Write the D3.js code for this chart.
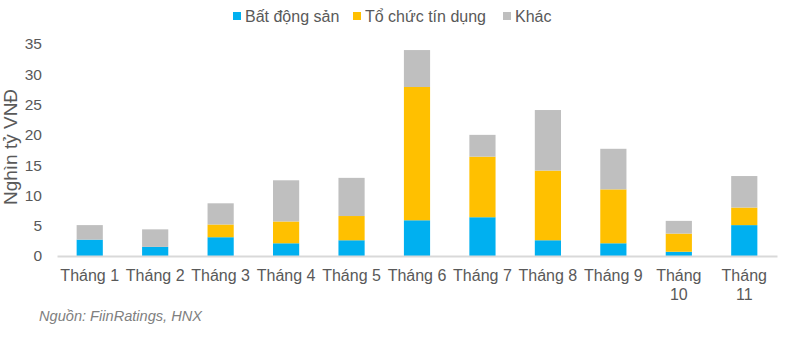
<!DOCTYPE html>
<html>
<head>
<meta charset="utf-8">
<script src="https://cdn.jsdelivr.net/npm/d3@7"></script>
<style>
  body { margin: 0; background: #fff; }
  text { font-family: "Liberation Sans", Arial, sans-serif; }
</style>
</head>
<body>
<div id="my_dataviz"></div>
<script>
// add data
var months = ["Tháng 1", "Tháng 2", "Tháng 3", "Tháng 4", "Tháng 5", "Tháng 6",
              "Tháng 7", "Tháng 8", "Tháng 9", "Tháng 10", "Tháng 11"];
var batDongSan = [2.7, 1.5, 3.1, 2.1, 2.6, 5.9, 6.4, 2.6, 2.1, 0.7, 5.1];
var toChucTinDung = [0, 0, 2.1, 3.6, 4.0, 22.0, 10.0, 11.5, 8.9, 3.0, 2.9];
var khac = [2.4, 2.9, 3.5, 6.8, 6.3, 6.1, 3.6, 10.0, 6.7, 2.1, 5.2];
var seriesNames = ["Bất động sản", "Tổ chức tín dụng", "Khác"];
var colors = ["#00B0F0", "#FFC000", "#BFBFBF"];
var yTicks = [0, 5, 10, 15, 20, 25, 30, 35];

// set the graph
var margin = {top: 44, right: 23, bottom: 82, left: 57},
    width = 800 - margin.left - margin.right,
    height = 338 - margin.top - margin.bottom;

var root = d3.select("#my_dataviz")
  .append("svg")
    .attr("width", 800)
    .attr("height", 338);

var svg = root.append("g")
    .attr("transform", "translate(" + margin.left + "," + margin.top + ")");

// build table for the stack
var table = months.map(function(m, i) {
  return {month: m, s0: batDongSan[i], s1: toChucTinDung[i], s2: khac[i]};
});
var stacked = d3.stack().keys(["s0", "s1", "s2"])(table);

// X axis
var x = d3.scaleBand()
  .range([0, width])
  .domain(months)
  .paddingInner(0.6)
  .paddingOuter(0.3);

// Y axis
var y = d3.scaleLinear()
  .domain([0, 35])
  .range([height, 0]);

var yAxis = svg.append("g")
  .call(d3.axisLeft(y).tickValues(yTicks).tickSize(0).tickPadding(15));
yAxis.select(".domain").remove();
yAxis.selectAll("text")
  .attr("fill", "#595959")
  .style("font-size", "15.5px");

// bars
svg.append("g")
  .selectAll("g")
  .data(stacked)
  .enter()
  .append("g")
    .attr("fill", function(d, i) { return colors[i]; })
  .selectAll("rect")
  .data(function(d) { return d; })
  .enter()
  .append("rect")
    .attr("x", function(d) { return x(d.data.month); })
    .attr("y", function(d) { return y(d[1]); })
    .attr("width", x.bandwidth())
    .attr("height", function(d) { return y(d[0]) - y(d[1]); });

// x axis line and labels
var xAxis = svg.append("g")
  .attr("transform", "translate(0," + height + ")")
  .call(d3.axisBottom(x).tickSize(0).tickPadding(14));
xAxis.select(".domain")
  .attr("stroke", "#D9D9D9")
  .attr("stroke-width", 2);
xAxis.selectAll("text")
  .attr("fill", "#595959")
  .style("font-size", "16px")
  .each(function(d) {
    var t = d3.select(this);
    if (this.getComputedTextLength() > x.step() - 1) {
      var parts = d.split(" ");
      var yy = t.attr("y"), dy = t.attr("dy");
      t.text(null);
      t.append("tspan").attr("x", 0).attr("y", yy).attr("dy", dy).text(parts[0]);
      t.append("tspan").attr("x", 0).attr("y", yy).attr("dy", "1.9em").text(parts[1]);
    }
  });

// y label
root.append("text")
  .attr("transform", "translate(17,147) rotate(-90)")
  .attr("text-anchor", "middle")
  .attr("fill", "#595959")
  .style("font-size", "19px")
  .text("Nghìn tỷ VNĐ");

// legend
var legendX = [233, 353, 503];
var legend = root.append("g");
seriesNames.forEach(function(name, i) {
  legend.append("rect")
    .attr("x", legendX[i])
    .attr("y", 12)
    .attr("width", 8)
    .attr("height", 8)
    .attr("fill", colors[i]);
  legend.append("text")
    .attr("x", legendX[i] + 12)
    .attr("y", 22)
    .attr("fill", "#595959")
    .style("font-size", "16px")
    .text(name);
});

// source
root.append("text")
  .attr("x", 39)
  .attr("y", 321)
  .attr("fill", "#808080")
  .style("font-size", "14.6px")
  .style("font-style", "italic")
  .text("Nguồn: FiinRatings, HNX");
</script>
</body>
</html>
